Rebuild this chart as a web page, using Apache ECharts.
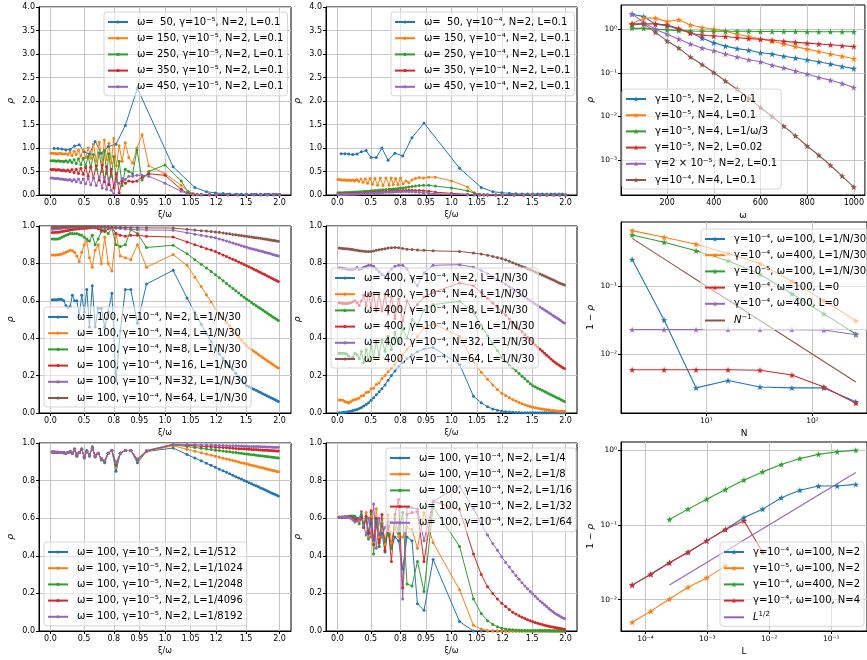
<!DOCTYPE html>
<html><head><meta charset="utf-8">
<script src="https://cdn.jsdelivr.net/npm/echarts@6/dist/echarts.min.js"></script>
<style>html,body{margin:0;padding:0;background:#fff}#c{width:867px;height:660px}</style>
</head><body><div id="c"></div>
<script>
// ---------------- tick labels ----------------
const XI_TICKS = [0.0, 0.5, 0.8, 0.95, 1.0, 1.05, 1.2, 1.5, 2.0];
const XI_LABELS = ['0.0','0.5','0.8','0.95','1.0','1.05','1.2','1.5','2.0'];
const OMEGA_TICKS = [200, 400, 600, 800, 1000];
const P3_Y_TICKS = [1e-3, 1e-2, 1e-1, 1];
const P6_X_TICKS = [10, 100];
const P6_Y_TICKS = [1e-2, 1e-1];
const P9_X_TICKS = [1e-4, 1e-3, 1e-2, 1e-1];
const P9_Y_TICKS = [1e-2, 1e-1, 1];

// ---------------- x samples ----------------
const XI50 = [0.063,0.126,0.188,0.251,0.314,0.377,0.440,0.503,0.565,0.628,
  0.691,0.754,0.817,0.880,0.942,1.005,1.068,1.131,1.194,1.257,
  1.319,1.382,1.445,1.508,1.571,1.634,1.696,1.759,1.822,1.885,1.948];
const XIA = [0.01,0.04,0.07,0.10,0.13,0.16,0.19,0.22,0.25,0.28,
  0.31,0.34,0.37,0.40,0.43,0.46,0.49,0.52,0.55,0.58,
  0.61,0.64,0.67,0.70,0.72,0.74,0.76,0.78,0.80,0.82,
  0.84,0.86,0.88,0.90,0.92,0.94,0.96,0.98,1.00,1.02,
  1.04,1.06,1.08,1.10,1.15,1.20,1.30,1.40,1.50,1.60,
  1.70,1.80,1.90,2.00];
const XI100 = [0.031,0.063,0.094,0.126,0.157,0.188,0.220,0.251,0.283,0.314,
  0.346,0.377,0.408,0.440,0.471,0.503,0.534,0.565,0.597,0.628,
  0.660,0.691,0.723,0.754,0.785,0.817,0.848,0.880,0.911,0.942,
  0.974,1.005,1.037,1.068,1.100,1.131,1.162,1.194,1.225,1.257,
  1.288,1.319,1.351,1.382,1.414,1.445,1.477,1.508,1.539,1.571,
  1.602,1.634,1.665,1.696,1.728,1.759,1.791,1.822,1.854,1.885,
  1.916,1.948,1.979];
const OMEGA = [50,100,150,200,250,300,350,400,450,500,550,600,650,700,750,800,850,900,950,1000];
const NVALS = [2,4,8,16,32,64,128,256];
const LVALS = [6.1035e-5,1.2207e-4,2.4414e-4,4.8828e-4,9.7656e-4,1.9531e-3,3.9063e-3,7.8125e-3,0.015625,0.03125,0.0625,0.125,0.25];

// ---------------- panel 1 (gamma=1e-5) ----------------
const P1_W50 = [0.99,0.99,0.98,0.96,0.97,1.04,1.07,0.92,0.87,1.14,
  0.89,1.03,1.08,1.48,2.27,0.60,0.16,0.07,0.045,0.03,
  0.02,0.015,0.015,0.015,0.015,0.015,0.015,0.015,0.015,0.015,0.015];
const P1_W150 = [0.89,0.89,0.89,0.88,0.88,0.89,0.88,0.87,0.88,0.86,
  0.91,0.84,0.93,0.86,0.95,0.83,0.96,0.80,1.00,0.78,
  1.08,0.72,1.12,0.70,1.17,0.75,1.10,0.68,1.20,0.62,
  1.05,0.72,1.11,0.80,0.68,1.00,1.28,0.62,0.45,0.21,
  0.08,0.03,0.01,0.01,0.01,0.01,0.01,0.01,0.01,0.01,
  0.01,0.01,0.01,0.01];
const P1_W250 = [0.73,0.73,0.73,0.72,0.73,0.72,0.72,0.71,0.73,0.70,
  0.74,0.69,0.75,0.67,0.77,0.65,0.78,0.62,0.82,0.58,
  0.86,0.55,0.90,0.50,0.94,0.45,0.88,0.40,0.82,0.30,
  0.72,0.20,0.55,0.50,0.45,0.96,0.32,0.50,0.64,0.30,
  0.07,0.02,0.01,0.01,0.01,0.01,0.01,0.01,0.01,0.01,
  0.01,0.01,0.01,0.01];
const P1_W350 = [0.54,0.54,0.54,0.53,0.54,0.53,0.52,0.53,0.51,0.53,
  0.50,0.54,0.48,0.55,0.46,0.57,0.44,0.58,0.40,0.60,
  0.36,0.62,0.32,0.64,0.28,0.60,0.22,0.55,0.15,0.45,
  0.05,0.30,0.25,0.30,0.28,0.30,0.38,0.45,0.42,0.12,
  0.03,0.01,0.005,0.005,0.005,0.005,0.005,0.005,0.005,0.005,
  0.005,0.005,0.005,0.005];
const P1_W450 = [0.36,0.36,0.35,0.35,0.35,0.34,0.34,0.33,0.33,0.32,
  0.33,0.30,0.33,0.28,0.34,0.26,0.34,0.24,0.35,0.22,
  0.36,0.20,0.37,0.15,0.38,0.12,0.35,0.10,0.02,0.30,
  0.25,0.35,0.33,0.40,0.40,0.42,0.42,0.40,0.25,0.08,
  0.02,0.005,0.003,0.002,0.002,0.002,0.002,0.002,0.002,0.002,
  0.002,0.002,0.002,0.002];

// ---------------- panel 2 (gamma=1e-4) ----------------
const P2_W50 = [0.88,0.88,0.87,0.86,0.87,0.92,0.945,0.80,0.80,1.00,
  0.74,0.89,0.83,1.22,1.53,0.57,0.16,0.07,0.05,0.035,
  0.025,0.02,0.02,0.02,0.02,0.02,0.02,0.02,0.02,0.02,0.02];
const P2_W150 = [0.33,0.33,0.32,0.32,0.32,0.31,0.32,0.31,0.32,0.30,
  0.33,0.29,0.34,0.27,0.34,0.25,0.35,0.23,0.35,0.21,
  0.36,0.20,0.36,0.21,0.36,0.22,0.35,0.22,0.36,0.24,
  0.30,0.26,0.32,0.35,0.37,0.36,0.38,0.38,0.30,0.17,
  0.04,0.01,0.005,0.005,0.005,0.005,0.005,0.005,0.005,0.005,
  0.005,0.005,0.005,0.005];
const P2_W250 = [0.05,0.05,0.05,0.05,0.052,0.054,0.055,0.057,0.06,0.062,
  0.065,0.068,0.071,0.075,0.078,0.082,0.086,0.09,0.095,0.10,
  0.105,0.11,0.115,0.12,0.125,0.13,0.135,0.14,0.145,0.15,
  0.16,0.17,0.18,0.19,0.20,0.205,0.205,0.19,0.15,0.09,
  0.04,0.015,0.008,0.005,0.003,0.003,0.003,0.003,0.003,0.003,
  0.003,0.003,0.003,0.003];
const P2_W350 = [0.02,0.02,0.021,0.022,0.023,0.024,0.025,0.027,0.028,0.03,
  0.032,0.034,0.036,0.039,0.042,0.045,0.048,0.052,0.056,0.06,
  0.064,0.068,0.072,0.076,0.079,0.082,0.085,0.088,0.091,0.094,
  0.097,0.10,0.10,0.098,0.095,0.09,0.08,0.06,0.035,0.015,
  0.006,0.003,0.002,0.001,0.001,0.001,0.001,0.001,0.001,0.001,
  0.001,0.001,0.001,0.001];
const P2_W450 = [0.01,0.01,0.011,0.012,0.013,0.014,0.015,0.016,0.017,0.018,
  0.02,0.022,0.024,0.026,0.028,0.031,0.034,0.037,0.04,0.044,
  0.048,0.052,0.056,0.06,0.063,0.066,0.068,0.07,0.071,0.072,
  0.072,0.07,0.068,0.064,0.058,0.05,0.04,0.028,0.015,0.006,
  0.002,0.001,0.001,0.001,0.001,0.001,0.001,0.001,0.001,0.001,
  0.001,0.001,0.001,0.001];

// ---------------- panel 3 (rho vs omega) ----------------
const P3_A = [2.2,1.95,1.3,1.2,1.0,0.84,0.62,0.49,0.41,0.36,0.33,0.29,0.27,0.24,0.22,0.2,0.18,0.16,0.14,0.125];
const P3_B = [1.33,1.8,1.8,1.5,1.65,1.25,1.1,1.0,0.9,0.77,0.68,0.6,0.53,0.46,0.4,0.35,0.31,0.27,0.24,0.21];
const P3_C = [1.05,1.05,1.0,0.97,0.93,0.91,0.9,0.9,0.9,0.9,0.9,0.89,0.89,0.89,0.89,0.88,0.88,0.88,0.88,0.88];
const P3_D = [1.33,1.33,1.33,1.25,1.04,0.81,0.73,0.7,0.68,0.64,0.61,0.59,0.56,0.53,0.5,0.48,0.46,0.44,0.42,0.4];
const P3_E = [2.25,1.42,1.0,0.77,0.6,0.46,0.37,0.32,0.27,0.23,0.2,0.18,0.15,0.13,0.11,0.094,0.078,0.068,0.057,0.046];
const P3_F = [1.25,1.33,0.85,0.54,0.37,0.23,0.155,0.102,0.065,0.042,0.026,0.016,0.01,0.006,0.0036,0.0021,0.00129,0.00076,0.00043,0.00024];

// ---------------- panel 4 (omega=100, N series) ----------------
const P4_N2 = [0.605,0.605,0.606,0.607,0.608,0.607,0.600,0.575,0.565,0.570,
  0.630,0.600,0.600,0.520,0.630,0.540,0.660,0.460,0.680,0.460,
  0.560,0.560,0.460,0.540,0.640,0.170,0.440,0.660,0.660,0.480,
  0.690,0.763,0.615,0.537,0.475,0.424,0.382,0.342,0.315,0.292,
  0.270,0.250,0.231,0.212,0.194,0.177,0.160,0.146,0.140,0.133,
  0.127,0.121,0.115,0.109,0.103,0.098,0.092,0.087,0.082,0.077,
  0.072,0.067,0.062];
const P4_N4 = [0.845,0.845,0.845,0.846,0.848,0.850,0.855,0.860,0.865,0.870,
  0.868,0.860,0.840,0.810,0.860,0.900,0.920,0.830,0.780,0.870,
  0.900,0.800,0.940,0.800,0.760,0.960,0.840,0.830,0.820,0.900,
  0.780,0.847,0.790,0.726,0.676,0.632,0.594,0.557,0.530,0.507,
  0.485,0.465,0.445,0.426,0.408,0.391,0.374,0.359,0.348,0.339,
  0.330,0.322,0.313,0.305,0.297,0.289,0.281,0.274,0.267,0.260,
  0.253,0.246,0.240];
const P4_N8 = [0.930,0.930,0.930,0.930,0.935,0.940,0.945,0.950,0.955,0.960,
  0.960,0.958,0.960,0.955,0.950,0.940,0.930,0.920,0.950,0.900,
  0.930,0.970,0.980,0.960,0.990,0.900,0.890,0.900,0.980,0.960,
  0.885,0.897,0.852,0.820,0.796,0.775,0.757,0.739,0.723,0.707,
  0.693,0.679,0.666,0.654,0.642,0.630,0.619,0.608,0.600,0.591,
  0.582,0.574,0.566,0.559,0.551,0.543,0.536,0.528,0.521,0.514,
  0.508,0.501,0.495];
const P4_N16 = [0.965,0.965,0.966,0.967,0.968,0.970,0.972,0.974,0.976,0.978,
  0.980,0.982,0.984,0.985,0.986,0.987,0.988,0.989,0.990,0.990,
  0.985,0.980,0.970,0.985,0.990,0.960,0.950,0.945,0.950,0.950,
  0.945,0.941,0.915,0.900,0.889,0.879,0.871,0.863,0.854,0.845,
  0.837,0.829,0.822,0.815,0.808,0.801,0.794,0.788,0.782,0.775,
  0.769,0.763,0.757,0.751,0.745,0.740,0.734,0.729,0.723,0.718,
  0.713,0.708,0.703];
const P4_N32 = [0.983,0.984,0.985,0.986,0.987,0.988,0.989,0.990,0.991,0.992,
  0.992,0.993,0.993,0.994,0.994,0.994,0.995,0.995,0.995,0.995,
  0.994,0.993,0.992,0.990,0.990,0.988,0.986,0.984,0.982,0.980,
  0.979,0.977,0.964,0.956,0.950,0.945,0.941,0.937,0.931,0.925,
  0.920,0.914,0.909,0.904,0.900,0.895,0.891,0.887,0.883,0.879,
  0.876,0.873,0.869,0.866,0.863,0.860,0.857,0.854,0.851,0.848,
  0.845,0.842,0.840];
const P4_N64 = [0.995,0.995,0.995,0.995,0.995,0.996,0.996,0.996,0.996,0.996,
  0.996,0.996,0.996,0.996,0.996,0.996,0.996,0.996,0.996,0.996,
  0.996,0.995,0.995,0.994,0.994,0.993,0.993,0.992,0.991,0.990,
  0.990,0.989,0.982,0.978,0.975,0.973,0.970,0.968,0.966,0.963,
  0.960,0.958,0.955,0.953,0.951,0.949,0.947,0.945,0.943,0.941,
  0.939,0.937,0.936,0.934,0.932,0.930,0.929,0.927,0.925,0.923,
  0.922,0.920,0.918];

// ---------------- panel 5 (omega=400, N series) ----------------
const P5_N2 = [0.001,0.002,0.003,0.004,0.006,0.008,0.010,0.013,0.016,0.019,
  0.024,0.030,0.037,0.045,0.055,0.068,0.082,0.097,0.113,0.130,
  0.150,0.175,0.200,0.225,0.248,0.270,0.290,0.310,0.328,0.342,
  0.350,0.260,0.090,0.055,0.033,0.022,0.015,0.010,0.007,0.005,
  0.004,0.003,0.003,0.002,0.002,0.002,0.002,0.001,0.001,0.001,
  0.001,0.001,0.001,0.001,0.001,0.001,0.001,0.001,0.001,0.001,
  0.001,0.001,0.001];
const P5_N4 = [0.070,0.070,0.068,0.062,0.058,0.054,0.060,0.068,0.072,0.075,
  0.080,0.092,0.094,0.110,0.112,0.130,0.132,0.152,0.160,0.185,
  0.200,0.220,0.240,0.260,0.285,0.310,0.340,0.370,0.410,0.455,
  0.477,0.410,0.275,0.218,0.180,0.150,0.126,0.106,0.094,0.082,
  0.072,0.064,0.056,0.050,0.044,0.039,0.035,0.031,0.028,0.025,
  0.023,0.021,0.019,0.017,0.016,0.014,0.013,0.012,0.011,0.010,
  0.010,0.009,0.009];
const P5_N8 = [0.320,0.320,0.320,0.318,0.315,0.305,0.290,0.300,0.320,0.310,
  0.290,0.330,0.270,0.340,0.280,0.360,0.300,0.380,0.310,0.390,
  0.330,0.410,0.340,0.430,0.370,0.450,0.400,0.500,0.470,0.550,
  0.580,0.597,0.540,0.468,0.415,0.371,0.333,0.297,0.275,0.257,
  0.241,0.226,0.211,0.197,0.183,0.170,0.157,0.146,0.140,0.133,
  0.127,0.121,0.115,0.109,0.103,0.098,0.092,0.087,0.082,0.077,
  0.072,0.067,0.062];
const P5_N16 = [0.590,0.588,0.586,0.585,0.585,0.587,0.590,0.595,0.600,0.590,
  0.575,0.600,0.630,0.575,0.640,0.570,0.640,0.545,0.640,0.545,
  0.635,0.530,0.620,0.505,0.610,0.490,0.600,0.550,0.580,0.620,
  0.645,0.695,0.680,0.645,0.614,0.588,0.565,0.544,0.524,0.503,
  0.485,0.467,0.451,0.435,0.419,0.405,0.390,0.377,0.363,0.352,
  0.341,0.330,0.319,0.309,0.299,0.289,0.280,0.272,0.264,0.257,
  0.250,0.243,0.238];
const P5_N32 = [0.776,0.775,0.774,0.772,0.770,0.768,0.767,0.768,0.772,0.778,
  0.768,0.772,0.780,0.785,0.790,0.790,0.785,0.770,0.755,0.740,
  0.730,0.750,0.770,0.785,0.790,0.790,0.770,0.720,0.680,0.750,
  0.790,0.793,0.780,0.762,0.745,0.729,0.715,0.702,0.689,0.676,
  0.664,0.652,0.641,0.630,0.620,0.610,0.600,0.592,0.583,0.575,
  0.567,0.559,0.551,0.544,0.536,0.529,0.522,0.515,0.508,0.501,
  0.494,0.487,0.481];
const P5_N64 = [0.882,0.881,0.880,0.879,0.878,0.877,0.876,0.874,0.872,0.870,
  0.868,0.866,0.865,0.864,0.863,0.863,0.866,0.870,0.873,0.876,
  0.879,0.882,0.884,0.885,0.884,0.880,0.876,0.874,0.872,0.870,
  0.867,0.864,0.855,0.850,0.843,0.837,0.831,0.826,0.819,0.811,
  0.804,0.797,0.790,0.784,0.778,0.772,0.766,0.761,0.754,0.749,
  0.743,0.738,0.733,0.727,0.722,0.717,0.712,0.707,0.702,0.697,
  0.693,0.688,0.684];

// ---------------- panel 6 (1-rho vs N) ----------------
const P6_A = [0.245,0.0318,0.0032,0.0041,0.0033,0.0032,0.0032,0.0020];
const P6_B = [0.65,0.52,0.41,0.30,0.214,0.117,0.061,0.031];
const P6_C = [0.56,0.44,0.33,0.234,0.149,0.077,0.039,0.0198];
const P6_D = [0.0059,0.0059,0.0059,0.0059,0.0058,0.00495,0.0033,0.0019];
const P6_E = [0.0229,0.0229,0.0229,0.0229,0.0229,0.0229,0.0226,0.0193];
const P6_F = [0.5,0.25,0.125,0.0625,0.03125,0.015625,0.0078125,0.00390625];

// ---------------- panel 7 (omega=100, gamma=1e-5, L series) ----------------
const P7_L512 = [0.952,0.952,0.951,0.951,0.950,0.950,0.948,0.946,0.950,0.955,
  0.945,0.970,0.930,0.950,0.970,0.920,0.960,0.930,0.980,0.925,
  0.945,0.910,0.895,0.945,0.960,0.850,0.945,0.960,0.960,0.895,
  0.955,0.973,0.939,0.920,0.905,0.892,0.881,0.871,0.861,0.852,
  0.844,0.836,0.828,0.821,0.814,0.808,0.801,0.795,0.789,0.783,
  0.777,0.772,0.767,0.761,0.756,0.751,0.746,0.741,0.736,0.732,
  0.727,0.723,0.718];
const P7_L1024 = [0.952,0.952,0.951,0.951,0.950,0.950,0.948,0.946,0.950,0.955,
  0.945,0.965,0.935,0.950,0.968,0.925,0.955,0.935,0.975,0.930,
  0.945,0.915,0.900,0.945,0.960,0.870,0.945,0.960,0.960,0.905,
  0.955,0.985,0.967,0.956,0.948,0.941,0.935,0.930,0.924,0.919,
  0.915,0.911,0.907,0.903,0.899,0.895,0.892,0.889,0.885,0.882,
  0.879,0.876,0.873,0.870,0.868,0.865,0.862,0.859,0.857,0.854,
  0.852,0.849,0.847];
const P7_L2048 = [0.952,0.952,0.951,0.951,0.950,0.950,0.948,0.946,0.950,0.955,
  0.945,0.964,0.936,0.950,0.967,0.926,0.955,0.936,0.974,0.931,
  0.945,0.916,0.902,0.945,0.960,0.880,0.945,0.960,0.960,0.910,
  0.958,0.990,0.981,0.976,0.972,0.968,0.965,0.962,0.960,0.957,
  0.955,0.953,0.951,0.949,0.947,0.945,0.943,0.942,0.940,0.938,
  0.937,0.935,0.934,0.932,0.931,0.929,0.928,0.927,0.925,0.924,
  0.923,0.921,0.920];
const P7_L4096 = [0.952,0.952,0.951,0.951,0.950,0.950,0.948,0.946,0.950,0.955,
  0.945,0.964,0.936,0.950,0.966,0.927,0.955,0.937,0.973,0.932,
  0.945,0.917,0.904,0.945,0.960,0.890,0.945,0.960,0.960,0.912,
  0.958,0.992,0.988,0.985,0.983,0.981,0.980,0.978,0.977,0.976,
  0.975,0.974,0.972,0.971,0.970,0.970,0.969,0.968,0.967,0.966,
  0.965,0.965,0.964,0.963,0.962,0.962,0.961,0.960,0.960,0.959,
  0.959,0.958,0.958];
const P7_L8192 = [0.952,0.952,0.951,0.951,0.950,0.950,0.948,0.946,0.950,0.955,
  0.945,0.963,0.937,0.950,0.965,0.928,0.955,0.938,0.972,0.933,
  0.945,0.918,0.906,0.945,0.960,0.895,0.945,0.960,0.960,0.915,
  0.960,0.994,0.992,0.991,0.990,0.989,0.989,0.988,0.987,0.987,
  0.986,0.986,0.985,0.985,0.984,0.984,0.983,0.983,0.982,0.982,
  0.982,0.981,0.981,0.980,0.980,0.980,0.979,0.979,0.979,0.978,
  0.978,0.978,0.978];

// ---------------- panel 8 (omega=100, gamma=1e-4, L series) ----------------
const P8_L4 = [0.605,0.605,0.605,0.606,0.607,0.608,0.610,0.612,0.610,0.600,
  0.595,0.610,0.570,0.600,0.520,0.570,0.480,0.580,0.450,0.520,
  0.420,0.560,0.440,0.500,0.480,0.330,0.500,0.480,0.145,0.110,
  0.380,0.050,0.000,0,0,0,0,0,0,0,
  0,0,0,0,0,0,0,0,0,0,
  0,0,0,0,0,0,0,0,0,0,
  0,0,0];
const P8_L8 = [0.605,0.605,0.605,0.606,0.607,0.606,0.604,0.600,0.598,0.590,
  0.580,0.600,0.560,0.630,0.500,0.610,0.470,0.650,0.500,0.580,
  0.460,0.620,0.470,0.550,0.500,0.500,0.550,0.540,0.440,0.630,
  0.470,0.220,0.030,0.010,0.003,0.001,0,0,0,0,
  0,0,0,0,0,0,0,0,0,0,
  0,0,0,0,0,0,0,0,0,0,
  0,0,0];
const P8_L16 = [0.605,0.605,0.605,0.606,0.608,0.610,0.612,0.610,0.605,0.590,
  0.570,0.620,0.550,0.600,0.490,0.630,0.410,0.590,0.450,0.570,
  0.480,0.520,0.440,0.600,0.520,0.630,0.250,0.240,0.370,0.210,
  0.660,0.450,0.170,0.093,0.055,0.035,0.022,0.015,0.010,0.008,
  0.006,0.005,0.004,0.004,0.003,0.003,0.003,0.002,0.002,0.002,
  0.002,0.002,0.002,0.002,0.002,0.001,0.001,0.001,0.001,0.001,
  0.001,0.001,0.001];
const P8_L32 = [0.605,0.605,0.605,0.606,0.607,0.607,0.606,0.600,0.590,0.595,
  0.600,0.600,0.550,0.610,0.520,0.640,0.460,0.600,0.470,0.620,
  0.430,0.550,0.370,0.620,0.700,0.230,0.620,0.630,0.635,0.370,
  0.690,0.645,0.410,0.300,0.235,0.200,0.170,0.148,0.130,0.114,
  0.100,0.090,0.081,0.073,0.066,0.060,0.054,0.049,0.045,0.041,
  0.037,0.034,0.031,0.028,0.025,0.023,0.021,0.019,0.017,0.015,
  0.013,0.011,0.009];
const P8_L64 = [0.605,0.605,0.606,0.607,0.607,0.605,0.600,0.590,0.580,0.585,
  0.600,0.635,0.560,0.510,0.600,0.500,0.675,0.440,0.600,0.500,
  0.550,0.580,0.580,0.580,0.580,0.170,0.655,0.655,0.650,0.480,
  0.690,0.770,0.650,0.570,0.510,0.465,0.430,0.395,0.365,0.340,
  0.315,0.295,0.275,0.257,0.240,0.225,0.210,0.197,0.185,0.172,
  0.160,0.150,0.140,0.130,0.120,0.111,0.103,0.095,0.088,0.082,
  0.076,0.071,0.066];

// ---------------- panel 9 (1-rho vs L) ----------------
const P9_A = [0.0156,0.0218,0.031,0.043,0.061,0.0866,0.125,0.162,0.23,0.29,0.33,0.33,0.347];
const P9_B = [0.00497,0.0070,0.0102,0.0146,0.0195,0.028];
const P9_C = [null,null,0.118,0.162,0.22,0.297,0.396,0.51,0.64,0.77,0.875,0.95,0.99];
const P9_D = [0.0156,0.0218,0.031,0.043,0.061,0.0866,0.113,0.043];
const P9_E = [null,null,0.015625,0.0221,0.03125,0.0442,0.0625,0.0884,0.125,0.177,0.25,0.354,0.5];

// ---------------- legend labels ----------------
const P1_NAMES = ['ω=  50, γ=10⁻⁵, N=2, L=0.1','ω= 150, γ=10⁻⁵, N=2, L=0.1','ω= 250, γ=10⁻⁵, N=2, L=0.1','ω= 350, γ=10⁻⁵, N=2, L=0.1','ω= 450, γ=10⁻⁵, N=2, L=0.1'];
const P2_NAMES = ['ω=  50, γ=10⁻⁴, N=2, L=0.1','ω= 150, γ=10⁻⁴, N=2, L=0.1','ω= 250, γ=10⁻⁴, N=2, L=0.1','ω= 350, γ=10⁻⁴, N=2, L=0.1','ω= 450, γ=10⁻⁴, N=2, L=0.1'];
const P3_NAMES = ['γ=10⁻⁵, N=2, L=0.1','γ=10⁻⁵, N=4, L=0.1','γ=10⁻⁵, N=4, L=1/ω/3','γ=10⁻⁵, N=2, L=0.02','γ=2 × 10⁻⁵, N=2, L=0.1','γ=10⁻⁴, N=4, L=0.1'];
const P4_NAMES = ['ω= 100, γ=10⁻⁴, N=2, L=1/N/30','ω= 100, γ=10⁻⁴, N=4, L=1/N/30','ω= 100, γ=10⁻⁴, N=8, L=1/N/30','ω= 100, γ=10⁻⁴, N=16, L=1/N/30','ω= 100, γ=10⁻⁴, N=32, L=1/N/30','ω= 100, γ=10⁻⁴, N=64, L=1/N/30'];
const P5_NAMES = ['ω= 400, γ=10⁻⁴, N=2, L=1/N/30','ω= 400, γ=10⁻⁴, N=4, L=1/N/30','ω= 400, γ=10⁻⁴, N=8, L=1/N/30','ω= 400, γ=10⁻⁴, N=16, L=1/N/30','ω= 400, γ=10⁻⁴, N=32, L=1/N/30','ω= 400, γ=10⁻⁴, N=64, L=1/N/30'];
const P6_NAMES = ['γ=10⁻⁴, ω=100, L=1/N/30 ','γ=10⁻⁴, ω=400, L=1/N/30 ','γ=10⁻⁵, ω=100, L=1/N/30 ','γ=10⁻⁴, ω=100, L=0','γ=10⁻⁴, ω=400, L=0','N^-1'];
const P7_NAMES = ['ω= 100, γ=10⁻⁵, N=2, L=1/512','ω= 100, γ=10⁻⁵, N=2, L=1/1024','ω= 100, γ=10⁻⁵, N=2, L=1/2048','ω= 100, γ=10⁻⁵, N=2, L=1/4096','ω= 100, γ=10⁻⁵, N=2, L=1/8192'];
const P8_NAMES = ['ω= 100, γ=10⁻⁴, N=2, L=1/4','ω= 100, γ=10⁻⁴, N=2, L=1/8','ω= 100, γ=10⁻⁴, N=2, L=1/16','ω= 100, γ=10⁻⁴, N=2, L=1/32','ω= 100, γ=10⁻⁴, N=2, L=1/64'];
const P9_NAMES = ['γ=10⁻⁴, ω=100, N=2','γ=10⁻⁵, ω=100, N=2','γ=10⁻⁴, ω=400, N=2','γ=10⁻⁴, ω=100, N=4','L^1/2'];
const PLAIN_LINES = ['N^-1', 'L^1/2'];

// ---------------- styling / helpers ----------------
const FONT = 'DejaVu Sans';
const COLORS = ['#1f77b4','#ff7f0e','#2ca02c','#d62728','#9467bd','#8c564b'];
const STAR = 'path://M50,2 L61.8,37.6 L99,37.6 L68.9,59.6 L80.4,95.1 L50,73.2 L19.6,95.1 L31.1,59.6 L1,37.6 L38.2,37.6 Z';
const SUP = {'-':'⁻','0':'⁰','1':'¹','2':'²','3':'³','4':'⁴','5':'⁵','6':'⁶','7':'⁷','8':'⁸','9':'⁹'};
function pow10Label(v){ const e = Math.round(Math.log10(v)); return '10' + String(e).split('').map(c => SUP[c]).join(''); }
function xiPos(x){ const d = x - 1; return Math.sign(d) * Math.sqrt(Math.abs(d)); }
const XI_POS = XI_TICKS.map(xiPos);
function xiLabel(v){ for (let i = 0; i < XI_POS.length; i++) if (Math.abs(XI_POS[i] - v) < 1e-6) return XI_LABELS[i]; return ''; }

const AXLINE = {show:true, onZero:false, lineStyle:{color:'#000', width:1}};
const SPLIT = {show:true, lineStyle:{color:'#c6c6c6', width:1}};
const LBL = {fontSize:8, color:'#000', fontFamily:FONT};
function tick(custom){ const t = {show:true, length:3, inside:false, lineStyle:{color:'#000', width:1}}; if (custom) t.customValues = custom; return t; }

const RECTS = [
  {left:39, top:7, width:252, height:188},
  {left:326, top:7, width:251, height:188},
  {left:621, top:5, width:253, height:190},
  {left:39, top:226, width:252, height:187},
  {left:326, top:226, width:251, height:187},
  {left:621, top:222, width:253, height:191},
  {left:39, top:443, width:252, height:188},
  {left:326, top:443, width:251, height:188},
  {left:621, top:442, width:253, height:189}
];

const grids = [], xAxes = [], yAxes = [], legends = [], series = [];
RECTS.forEach(r => grids.push(Object.assign({show:true, borderColor:'#000', borderWidth:1, backgroundColor:'transparent', containLabel:false}, r)));

function xiAxis(gi){
  return {type:'value', gridIndex:gi, min:-1.1, max:1.1, name:'ξ/ω', nameLocation:'middle', nameGap:16,
    nameTextStyle:{fontSize:8, color:'#000', fontFamily:FONT},
    axisLine:AXLINE, axisTick:tick(XI_POS), splitLine:SPLIT,
    axisLabel:Object.assign({customValues:XI_POS, formatter:xiLabel, margin:4}, LBL)};
}
function linY(gi, max, interval, gap){
  return {type:'value', gridIndex:gi, min:0, max:max, interval:interval, name:'ρ', nameLocation:'middle', nameRotate:90, nameGap:gap,
    nameTextStyle:{fontSize:9, color:'#000', fontFamily:FONT, fontStyle:'italic'},
    axisLine:AXLINE, axisTick:tick(), splitLine:SPLIT,
    axisLabel:Object.assign({formatter:v => v.toFixed(1), margin:4}, LBL)};
}
function logAxis(gi, min, max, ticks, name, isY, gap){
  const a = {type:'log', logBase:10, gridIndex:gi, min:min, max:max, name:name, nameLocation:'middle', nameGap:gap,
    nameTextStyle:{fontSize:9, color:'#000', fontFamily:FONT, rich:{i:{fontStyle:'italic', fontSize:9, fontFamily:FONT}}},
    axisLine:AXLINE, axisTick:tick(ticks), splitLine:SPLIT, minorTick:{show:false},
    axisLabel:Object.assign({customValues:ticks, formatter:pow10Label, margin:4}, LBL, {fontSize:7.5})};
  if (isY) a.nameRotate = 90;
  return a;
}
function xiSeries(gi, name, xi, rho, ci){
  const c = COLORS[ci];
  series.push({type:'line', name:name, xAxisIndex:gi, yAxisIndex:gi, data:xi.map((x, i) => [xiPos(x), rho[i]]),
    symbol:'circle', symbolSize:3, showSymbol:true, lineStyle:{width:1, color:c}, itemStyle:{color:c}, color:c,
    animation:false, silent:true, clip:true});
}
function logSeries(gi, name, xs, ys, ci, plain){
  const c = COLORS[ci];
  const data = [];
  xs.forEach((x, i) => { if (ys[i] !== undefined && ys[i] !== null) data.push([x, ys[i]]); });
  series.push({type:'line', name:name, xAxisIndex:gi, yAxisIndex:gi, data:data,
    symbol:plain ? 'none' : STAR, symbolSize:6.5, showSymbol:!plain, lineStyle:{width:1.1, color:c}, itemStyle:{color:c}, color:c,
    animation:false, silent:true, clip:true});
}
function legend(left, top, names, itemH){
  const data = names.map(n => PLAIN_LINES.indexOf(n) >= 0 ? {name:n, itemStyle:{opacity:0, borderWidth:0}} : n);
  legends.push({show:true, orient:'vertical', left:left, top:top, data:data, itemWidth:20, itemHeight:itemH, itemGap:4.2,
    padding:[4,4,3,3], backgroundColor:'rgba(255,255,255,0.55)', borderColor:'#d6d6d6', borderWidth:1, borderRadius:3,
    selectedMode:false,
    formatter:function(n){ if (n === 'L^1/2') return '{i|L}{s|1/2}'; if (n === 'N^-1') return '{i|N}{s|−1}'; return n; },
    textStyle:{fontSize:10, fontFamily:FONT, color:'#000', lineHeight:12, padding:[0,0,0,4],
      rich:{i:{fontStyle:'italic', fontSize:10, fontFamily:FONT, color:'#000'}, s:{fontSize:7, fontFamily:FONT, color:'#000', padding:[0,0,6,0]}}}});
}

// ---- panel 1
xAxes.push(xiAxis(0)); yAxes.push(linY(0, 4, 0.5, 24));
xiSeries(0, P1_NAMES[0], XI50, P1_W50, 0);
xiSeries(0, P1_NAMES[1], XIA, P1_W150, 1);
xiSeries(0, P1_NAMES[2], XIA, P1_W250, 2);
xiSeries(0, P1_NAMES[3], XIA, P1_W350, 3);
xiSeries(0, P1_NAMES[4], XIA, P1_W450, 4);
legend(104, 12, P1_NAMES, 4);
// ---- panel 2
xAxes.push(xiAxis(1)); yAxes.push(linY(1, 4, 0.5, 24));
xiSeries(1, P2_NAMES[0], XI50, P2_W50, 0);
xiSeries(1, P2_NAMES[1], XIA, P2_W150, 1);
xiSeries(1, P2_NAMES[2], XIA, P2_W250, 2);
xiSeries(1, P2_NAMES[3], XIA, P2_W350, 3);
xiSeries(1, P2_NAMES[4], XIA, P2_W450, 4);
legend(391, 12, P2_NAMES, 4);
// ---- panel 3
xAxes.push({type:'value', gridIndex:2, min:2.5, max:1047.5, name:'ω', nameLocation:'middle', nameGap:16,
  nameTextStyle:{fontSize:9, color:'#000', fontFamily:FONT}, axisLine:AXLINE, axisTick:tick(OMEGA_TICKS), splitLine:SPLIT,
  axisLabel:Object.assign({customValues:OMEGA_TICKS, formatter:v => String(v), margin:4}, LBL)});
yAxes.push(Object.assign(logAxis(2, 1.58e-4, 3.6, P3_Y_TICKS, 'ρ', true, 26), {nameTextStyle:{fontSize:9, color:'#000', fontFamily:FONT, fontStyle:'italic'}}));
[P3_A, P3_B, P3_C, P3_D, P3_E, P3_F].forEach((ys, i) => logSeries(2, P3_NAMES[i], OMEGA, ys, i, false));
legend(622, 89, P3_NAMES, 7);
// ---- panel 4
xAxes.push(xiAxis(3)); yAxes.push(linY(3, 1, 0.2, 24));
[P4_N2, P4_N4, P4_N8, P4_N16, P4_N32, P4_N64].forEach((ys, i) => xiSeries(3, P4_NAMES[i], XI100, ys, i));
legend(44, 307, P4_NAMES, 4);
// ---- panel 5
xAxes.push(xiAxis(4)); yAxes.push(linY(4, 1, 0.2, 24));
[P5_N2, P5_N4, P5_N8, P5_N16, P5_N32, P5_N64].forEach((ys, i) => xiSeries(4, P5_NAMES[i], XI100, ys, i));
legend(331, 268, P5_NAMES, 4);
// ---- panel 6
xAxes.push(logAxis(5, 1.57, 326, P6_X_TICKS, 'N', false, 16));
yAxes.push(logAxis(5, 1.37e-3, 0.87, P6_Y_TICKS, '1 − {i|ρ}', true, 26));
[P6_A, P6_B, P6_C, P6_D, P6_E].forEach((ys, i) => logSeries(5, P6_NAMES[i], NVALS, ys, i, false));
logSeries(5, P6_NAMES[5], NVALS, P6_F, 5, true);
legend(701, 229, P6_NAMES, 7);
// ---- panel 7
xAxes.push(xiAxis(6)); yAxes.push(linY(6, 1, 0.2, 24));
[P7_L512, P7_L1024, P7_L2048, P7_L4096, P7_L8192].forEach((ys, i) => xiSeries(6, P7_NAMES[i], XI100, ys, i));
legend(44, 542, P7_NAMES, 4);
// ---- panel 8
xAxes.push(xiAxis(7)); yAxes.push(linY(7, 1, 0.2, 24));
[P8_L4, P8_L8, P8_L16, P8_L32, P8_L64].forEach((ys, i) => xiSeries(7, P8_NAMES[i], XI100, ys, i));
legend(386, 448, P8_NAMES, 4);
// ---- panel 9
xAxes.push(logAxis(8, 4.03e-5, 0.379, P9_X_TICKS, 'L', false, 16));
yAxes.push(logAxis(8, 3.8e-3, 1.28, P9_Y_TICKS, '1 − {i|ρ}', true, 26));
[P9_A, P9_B, P9_C, P9_D].forEach((ys, i) => logSeries(8, P9_NAMES[i], LVALS, ys, i, false));
logSeries(8, P9_NAMES[4], LVALS, P9_E, 4, true);
legend(720, 542, P9_NAMES, 7);

const chart = echarts.init(document.getElementById('c'), null, {renderer:'canvas'});
chart.setOption({backgroundColor:'#ffffff', animation:false, textStyle:{fontFamily:FONT},
  grid:grids, xAxis:xAxes, yAxis:yAxes, legend:legends, series:series, tooltip:{show:false}});
</script></body></html>
